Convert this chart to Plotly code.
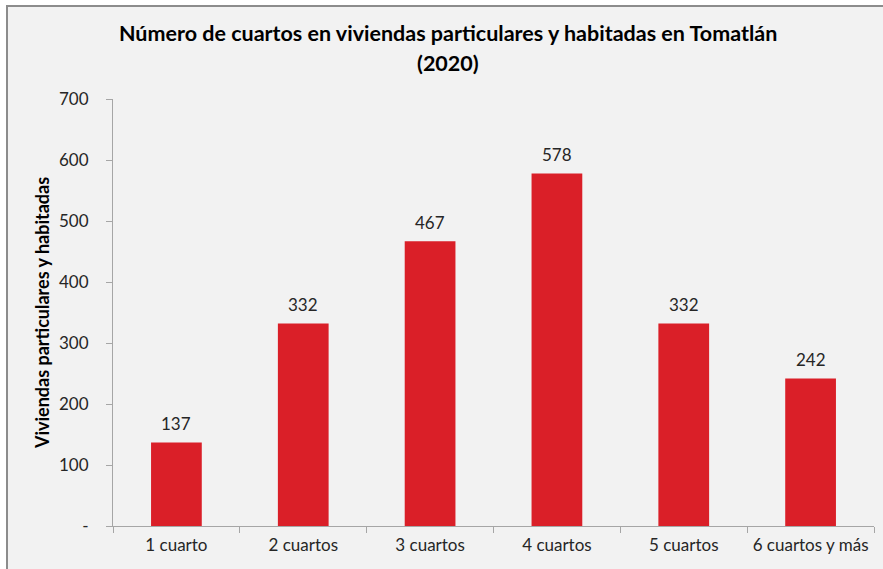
import plotly.graph_objects as go

categories = ["1 cuarto", "2 cuartos", "3 cuartos", "4 cuartos", "5 cuartos", "6 cuartos y más"]
values = [137, 332, 467, 578, 332, 242]
y_tickvals = [0, 100, 200, 300, 400, 500, 600, 700]
y_ticktext = ["-", "100", "200", "300", "400", "500", "600", "700"]
title_lines = ["Número de cuartos en viviendas particulares y habitadas en Tomatlán", "(2020)"]

W, H = 883, 569
ml, mr, mt, mb = 113, 9, 99, 43
pw, ph = W - ml - mr, H - mt - mb

FONT = "Lato, Noto Sans, sans-serif"
TXT = "#262626"


def py(p):
    return (H - mb - p) / ph


def px(p):
    return (p - ml) / pw


fig = go.Figure()
fig.add_trace(go.Bar(
    x=categories, y=values,
    marker=dict(color="#DA1F28", line=dict(width=0)),
    width=0.4, hoverinfo="skip",
))
for c, v in zip(categories, values):
    fig.add_annotation(x=c, y=v, text=str(v), showarrow=False,
                       yanchor="bottom", yshift=6,
                       font=dict(family=FONT, size=17, color=TXT))

for i, (line, yc) in enumerate(zip(title_lines, [33, 63])):
    fig.add_annotation(xref="paper", yref="paper", x=px(448), y=py(yc),
                       xanchor="center", yanchor="middle", showarrow=False,
                       text="<b>" + line + "</b>",
                       font=dict(family=FONT, size=21.5, color="black"))

# background frame
fig.add_shape(type="rect", xref="paper", yref="paper", layer="below",
              x0=px(7), x1=px(W + 20), y0=py(H + 20), y1=py(6),
              fillcolor="#F2F2F2", line=dict(color="#8C8C8C", width=2))

fig.update_layout(
    width=W, height=H,
    margin=dict(l=ml, r=mr, t=mt, b=mb, autoexpand=False),
    paper_bgcolor="white",
    plot_bgcolor="rgba(0,0,0,0)",
    showlegend=False,
    font=dict(family=FONT, color=TXT),
)
fig.update_xaxes(
    type="category", tickson="boundaries", ticks="outside", ticklen=6,
    tickcolor="#A6A6A6", showline=True, linecolor="#A6A6A6", linewidth=1,
    showgrid=False, tickfont=dict(family=FONT, size=17, color=TXT),
    range=[-0.5, 5.5], tickangle=0, automargin=False, ticklabelstandoff=4,
)
fig.update_yaxes(
    range=[0, 700], tickvals=y_tickvals, ticktext=y_ticktext,
    ticks="outside", ticklen=6, tickcolor="#A6A6A6",
    showline=True, linecolor="#A6A6A6", linewidth=1, showgrid=False,
    zeroline=False, ticklabelstandoff=14, automargin=False,
    tickfont=dict(family=FONT, size=17, color=TXT),
    title=dict(text="<b>Viviendas particulares y habitadas</b>", standoff=4,
               font=dict(family=FONT, size=18, color="black")),
)

fig.write_html("out.html", config={"displayModeBar": False},
               post_script="document.body.style.margin='0';document.body.style.overflow='hidden';")
